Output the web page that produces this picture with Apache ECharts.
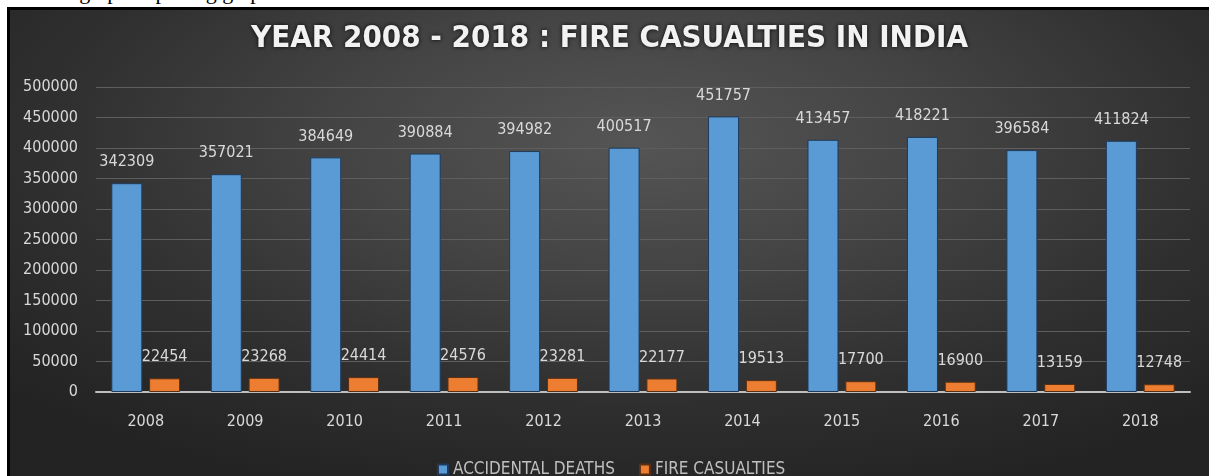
<!DOCTYPE html>
<html>
<head>
<meta charset="utf-8">
<script src="https://cdn.jsdelivr.net/npm/echarts@6/dist/echarts.min.js"></script>
<style>
  html, body { margin: 0; padding: 0; background: #ffffff; overflow: hidden; }
  #wrap { position: relative; width: 1209px; height: 476px; overflow: hidden; background: #ffffff; }
  #topText { position: absolute; left: 42px; top: -21px; font-family: "Liberation Serif", serif; font-size: 22px; color: #000; }
  #bg { position: absolute; left: 7px; top: 7px; width: 1210px; height: 470px; box-sizing: border-box;
        border-left: 3px solid #000; border-top: 3px solid #000;
        background: radial-gradient(ellipse 70% 80% at 52% 28%, #555555 0%, #444444 35%, #2f2f2f 70%, #232323 100%); }
  #chart { position: absolute; left: 0; top: 0; width: 1209px; height: 476px; }
</style>
</head>
<body>
<div id="wrap">
  <div id="topText">Bar graph depicting graph</div>
  <div id="bg"></div>
  <div id="chart"></div>
</div>
<script>
const titleText = 'YEAR 2008 - 2018 : FIRE CASUALTIES IN INDIA';
const years = ['2008','2009','2010','2011','2012','2013','2014','2015','2016','2017','2018'];
const accidentalDeaths = [342309, 357021, 384649, 390884, 394982, 400517, 451757, 413457, 418221, 396584, 411824];
const fireCasualties = [22454, 23268, 24414, 24576, 23281, 22177, 19513, 17700, 16900, 13159, 12748];
const seriesNames = ['ACCIDENTAL DEATHS', 'FIRE CASUALTIES'];

const chart = echarts.init(document.getElementById('chart'), null, { renderer: 'canvas' });
const labelFont = 'DejaVu Sans Condensed, Open Sans, sans-serif';
chart.setOption({
  backgroundColor: 'transparent',
  animation: false,
  title: {
    text: titleText,
    left: 246,
    top: 18,
    textStyle: {
      color: '#f2f2f2',
      fontFamily: labelFont,
      fontWeight: 'bold',
      fontSize: 31,
      textShadowColor: 'rgba(0,0,0,0.9)',
      textShadowBlur: 4
    }
  },
  legend: {
    data: seriesNames,
    left: 432,
    top: 456,
    itemWidth: 10,
    itemHeight: 10,
    itemGap: 24,
    icon: 'rect',
    textStyle: { color: '#bfbfbf', fontSize: 17, fontFamily: labelFont }
  },
  grid: { left: 96, right: 19, top: 87, bottom: 84, containLabel: false },
  xAxis: {
    type: 'category',
    data: years,
    axisLine: { lineStyle: { color: '#bfbfbf', width: 2 } },
    axisTick: { show: false },
    axisLabel: { color: '#d9d9d9', fontSize: 16, fontFamily: labelFont, margin: 22 },
    splitLine: { show: false }
  },
  yAxis: {
    type: 'value',
    min: 0,
    max: 500000,
    interval: 50000,
    axisLine: { show: false },
    axisTick: { show: false },
    axisLabel: { color: '#d9d9d9', fontSize: 16, fontFamily: labelFont, margin: 18, formatter: v => String(v) },
    splitLine: { lineStyle: { color: '#5e5e5e', width: 1 } }
  },
  series: [
    {
      name: seriesNames[0],
      type: 'bar',
      data: accidentalDeaths,
      barWidth: 31,
      barGap: '22%',
      itemStyle: { color: '#5b9bd5', borderColor: '#1e3b5c', borderWidth: 1 },
      label: { show: true, position: 'top', distance: 13, color: '#d9d9d9', fontSize: 16, fontFamily: labelFont }
    },
    {
      name: seriesNames[1],
      type: 'bar',
      data: fireCasualties,
      barWidth: 31,
      itemStyle: { color: '#ed7d31', borderColor: '#5a3015', borderWidth: 1 },
      label: { show: true, position: 'top', distance: 13, color: '#d9d9d9', fontSize: 16, fontFamily: labelFont }
    }
  ]
});
</script>
</body>
</html>
